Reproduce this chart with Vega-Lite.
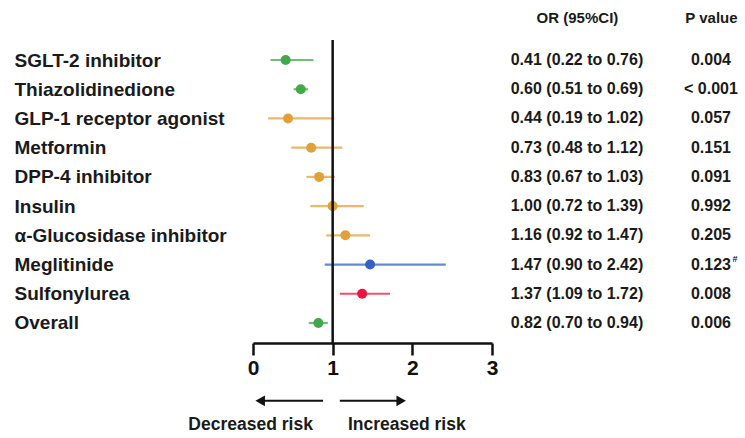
{
  "$schema": "https://vega.github.io/schema/vega-lite/v6.json",
  "padding": {"left": 14, "top": 10, "right": 0, "bottom": 0},
  "bounds": "flush",
  "spacing": 0,
  "background": "white",
  "config": {"view": {"stroke": null}, "font": "Liberation Sans"},
  "datasets": {
    "rows": [
      {"drug": "SGLT-2 inhibitor", "or": 0.41, "lo": 0.22, "hi": 0.76, "or_ci": "0.41 (0.22 to 0.76)", "p": "0.004", "cat": "dec", "sup": ""},
      {"drug": "Thiazolidinedione", "or": 0.60, "lo": 0.51, "hi": 0.69, "or_ci": "0.60 (0.51 to 0.69)", "p": "< 0.001", "cat": "dec", "sup": ""},
      {"drug": "GLP-1 receptor agonist", "or": 0.44, "lo": 0.19, "hi": 1.02, "or_ci": "0.44 (0.19 to 1.02)", "p": "0.057", "cat": "ns", "sup": ""},
      {"drug": "Metformin", "or": 0.73, "lo": 0.48, "hi": 1.12, "or_ci": "0.73 (0.48 to 1.12)", "p": "0.151", "cat": "ns", "sup": ""},
      {"drug": "DPP-4 inhibitor", "or": 0.83, "lo": 0.67, "hi": 1.03, "or_ci": "0.83 (0.67 to 1.03)", "p": "0.091", "cat": "ns", "sup": ""},
      {"drug": "Insulin", "or": 1.00, "lo": 0.72, "hi": 1.39, "or_ci": "1.00 (0.72 to 1.39)", "p": "0.992", "cat": "ns", "sup": ""},
      {"drug": "α-Glucosidase inhibitor", "or": 1.16, "lo": 0.92, "hi": 1.47, "or_ci": "1.16 (0.92 to 1.47)", "p": "0.205", "cat": "ns", "sup": ""},
      {"drug": "Meglitinide", "or": 1.47, "lo": 0.90, "hi": 2.42, "or_ci": "1.47 (0.90 to 2.42)", "p": "0.123", "cat": "meg", "sup": "#"},
      {"drug": "Sulfonylurea", "or": 1.37, "lo": 1.09, "hi": 1.72, "or_ci": "1.37 (1.09 to 1.72)", "p": "0.008", "cat": "inc", "sup": ""},
      {"drug": "Overall", "or": 0.82, "lo": 0.70, "hi": 0.94, "or_ci": "0.82 (0.70 to 0.94)", "p": "0.006", "cat": "dec", "sup": ""}
    ],
    "arrows": [
      {"dir": "Decreased risk", "from": 0.12, "to": 0.88, "head": 0.09, "label": -0.03},
      {"dir": "Increased risk", "from": 1.09, "to": 1.83, "head": 1.86, "label": 1.93}
    ]
  },
  "hconcat": [
    {
      "width": 239,
      "height": 303,
      "layer": [
        {
          "data": {"name": "rows"},
          "encoding": {
            "y": {
              "field": "drug", "type": "nominal", "sort": null,
              "scale": {"type": "point", "padding": 0.685},
              "axis": {"orient": "left", "title": null, "labelAlign": "left", "labelBaseline": "middle", "labelPadding": 239, "ticks": false, "tickSize": 0, "domain": false, "labelFontSize": 19, "labelFontWeight": "bold", "labelColor": "#1a1a1a", "labelFont": "Liberation Sans", "labelLimit": 0}
            }
          },
          "layer": [
            {
              "mark": {"type": "rule", "strokeWidth": 2.2, "opacity": 0.75},
              "encoding": {
                "x": {
                  "field": "lo", "type": "quantitative",
                  "scale": {"domain": [0, 3], "nice": false, "zero": false},
                  "axis": {"title": null, "values": [0, 1, 2, 3], "format": "d", "grid": false, "tickSize": 12, "tickWidth": 2.5, "tickColor": "#111", "domainWidth": 2.5, "domainColor": "#111", "labelFontSize": 21, "labelFontWeight": "bold", "labelColor": "#111", "labelPadding": 2, "labelFlush": false, "labelFont": "Liberation Sans"}
                },
                "x2": {"field": "hi"},
                "color": {"field": "cat", "type": "nominal", "scale": {"domain": ["dec", "ns", "meg", "inc"], "range": ["#44a84a", "#e0a03a", "#3560c8", "#e8173e"]}, "legend": null}
              }
            },
            {
              "mark": {"type": "point", "filled": true, "size": 100, "opacity": 1},
              "encoding": {
                "x": {"field": "or", "type": "quantitative", "title": null},
                "color": {"field": "cat", "type": "nominal", "legend": null}
              }
            }
          ]
        },
        {
          "data": {"values": [{}]},
          "mark": {"type": "rule", "strokeWidth": 2.5, "color": "#111"},
          "encoding": {"x": {"datum": 1, "type": "quantitative", "title": null}}
        },
        {
          "data": {"name": "arrows"},
          "layer": [
            {
              "mark": {"type": "rule", "strokeWidth": 2, "color": "#111"},
              "encoding": {
                "x": {"field": "from", "type": "quantitative", "title": null},
                "x2": {"field": "to"},
                "y": {"datum": -0.191, "type": "quantitative", "scale": {"domain": [0, 1]}, "axis": null}
              }
            },
            {
              "mark": {"type": "point", "filled": true, "color": "#111", "opacity": 1, "size": 120},
              "encoding": {
                "x": {"field": "head", "type": "quantitative", "title": null},
                "y": {"datum": -0.191, "type": "quantitative", "axis": null},
                "shape": {"field": "dir", "type": "nominal", "scale": {"domain": ["Decreased risk", "Increased risk"], "range": ["triangle-left", "triangle-right"]}, "legend": null}
              }
            },
            {
              "mark": {"type": "text", "fontSize": 17.5, "fontWeight": "bold", "color": "#1a1a1a", "baseline": "middle", "font": "Liberation Sans"},
              "encoding": {
                "x": {"field": "label", "type": "quantitative", "title": null},
                "y": {"datum": -0.27, "type": "quantitative", "axis": null},
                "text": {"field": "dir"}
              }
            }
          ]
        }
      ],
      "resolve": {"scale": {"y": "independent", "shape": "independent"}}
    },
    {
      "width": 253,
      "height": 303,
      "data": {"name": "rows"},
      "encoding": {
        "y": {"field": "drug", "type": "nominal", "sort": null, "scale": {"type": "point", "padding": 0.685}, "axis": null}
      },
      "layer": [
        {
          "mark": {"type": "text", "fontSize": 16, "fontWeight": "bold", "color": "#1a1a1a", "baseline": "middle", "font": "Liberation Sans"},
          "encoding": {
            "x": {
              "datum": "OR (95%CI)", "type": "nominal",
              "scale": {"type": "point", "domain": ["OR (95%CI)", "P value"], "padding": 0.444, "align": 0.714},
              "axis": {"orient": "top", "title": null, "ticks": false, "tickSize": 0, "domain": false, "labelAngle": 0, "labelFontSize": 15, "labelFontWeight": "bold", "labelPadding": 15, "labelColor": "#1a1a1a", "labelFont": "Liberation Sans"}
            },
            "text": {"field": "or_ci"}
          }
        },
        {
          "mark": {"type": "text", "fontSize": 16, "fontWeight": "bold", "color": "#1a1a1a", "baseline": "middle", "font": "Liberation Sans"},
          "encoding": {
            "x": {"datum": "P value", "type": "nominal"},
            "text": {"field": "p"}
          }
        },
        {
          "mark": {"type": "text", "fontSize": 9, "fontWeight": "bold", "color": "#1a1a1a", "baseline": "middle", "dx": 24, "dy": -6, "font": "Liberation Sans"},
          "encoding": {
            "x": {"datum": "P value", "type": "nominal"},
            "text": {"field": "sup"}
          }
        }
      ]
    }
  ]
}
